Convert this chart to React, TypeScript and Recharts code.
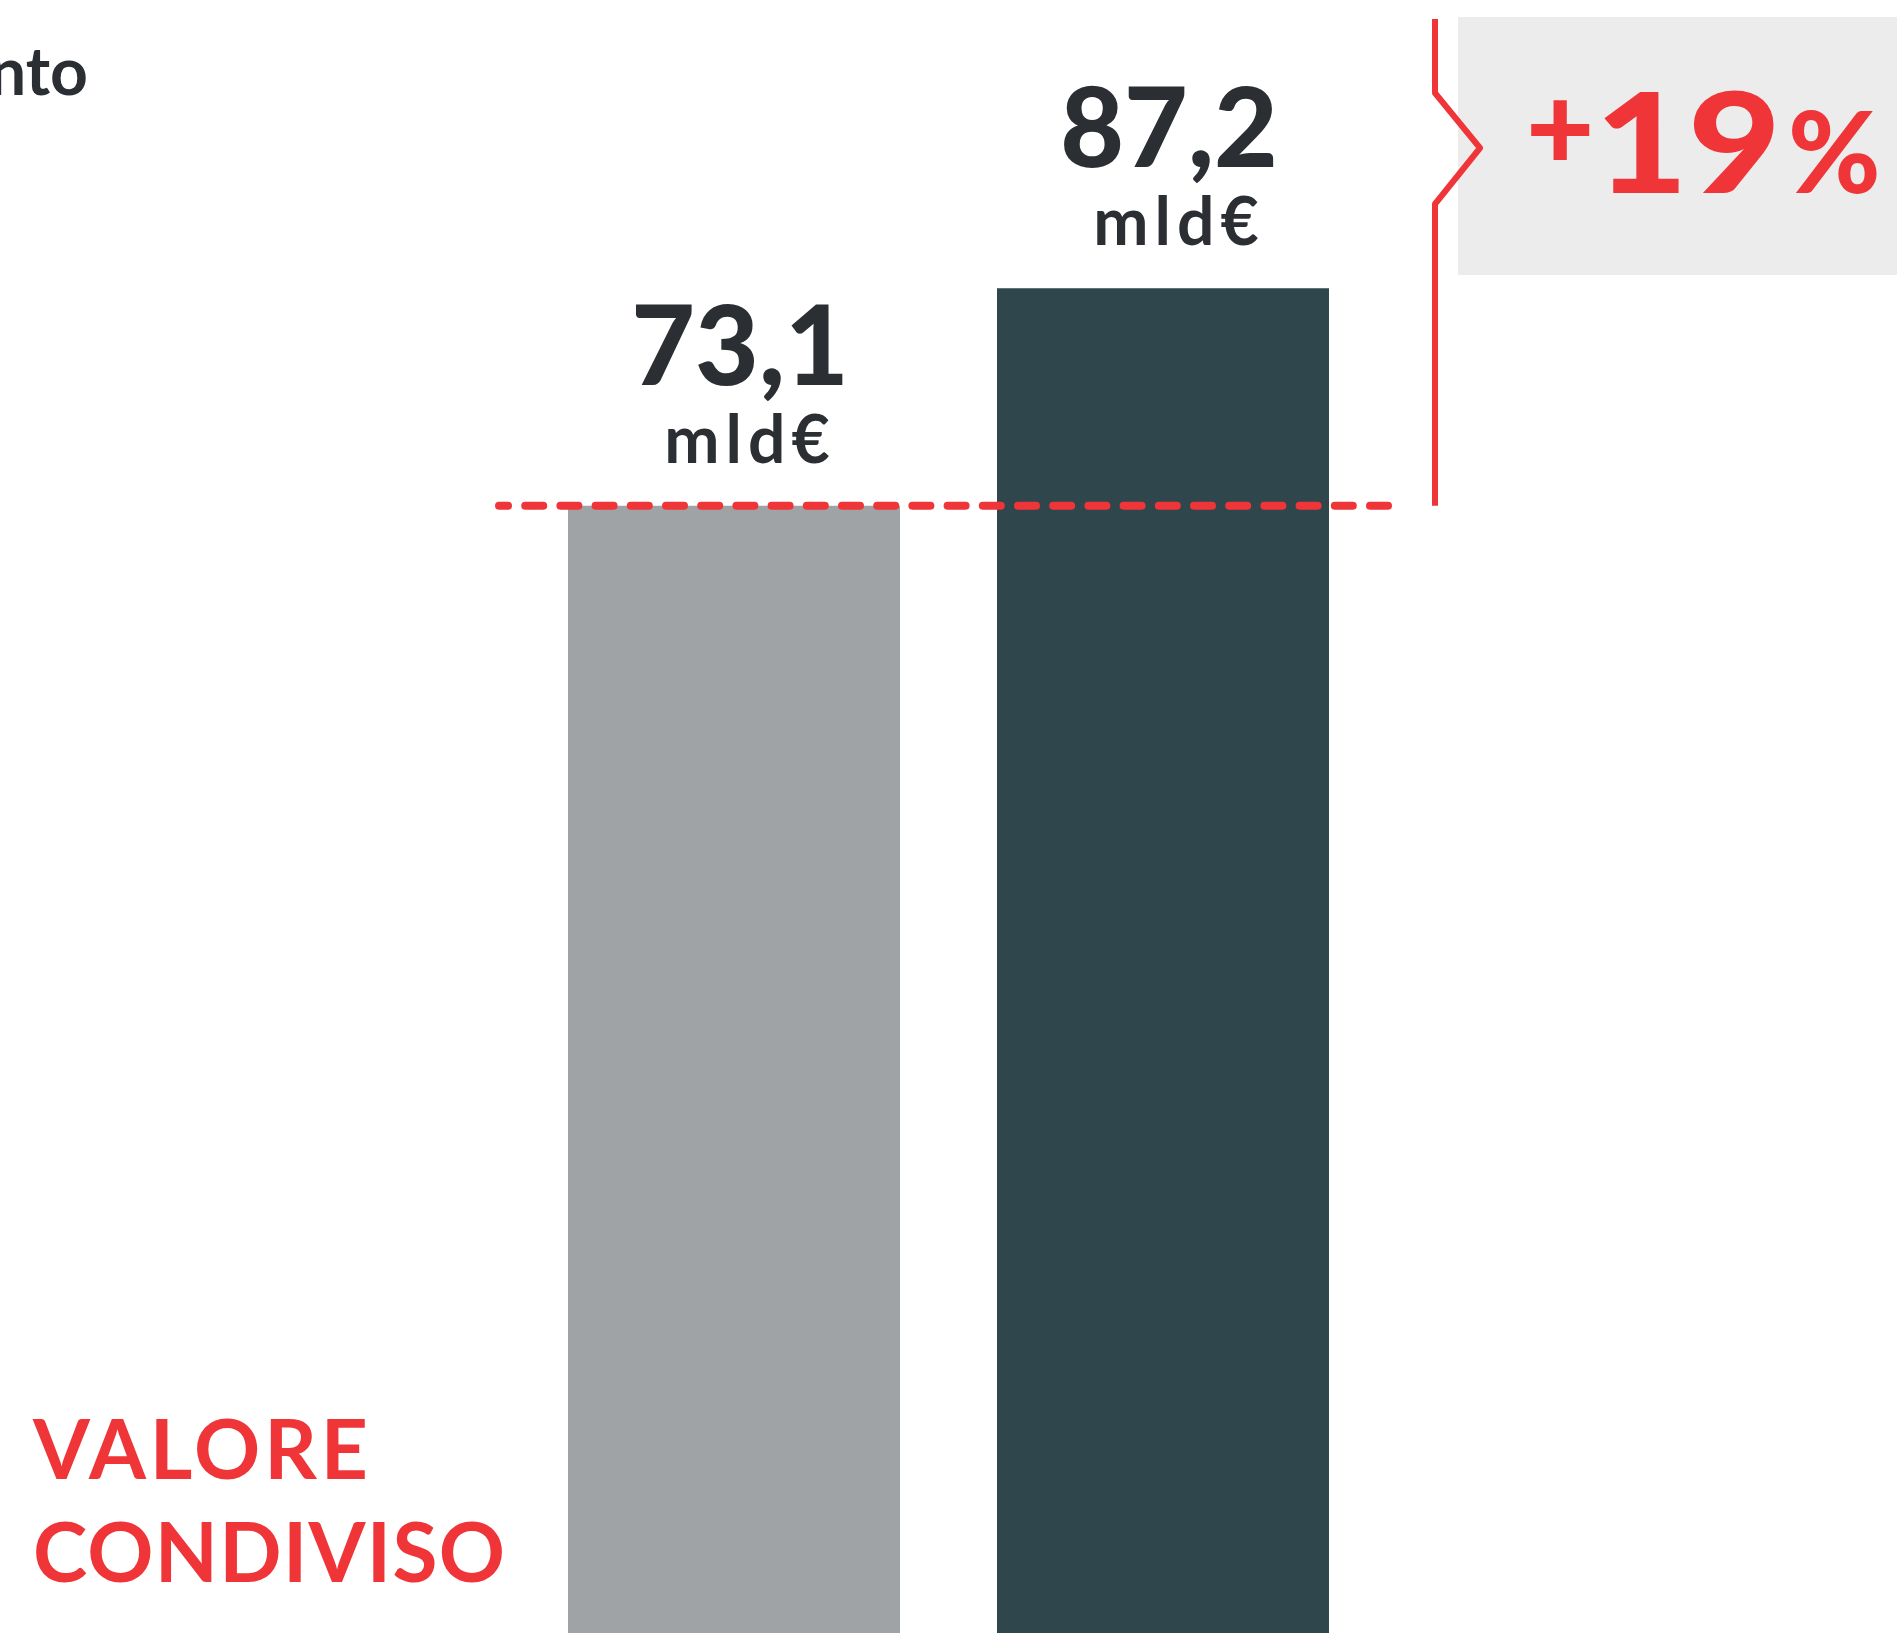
import React from "react";
import { BarChart, Bar, XAxis, YAxis, Cell, LabelList, ReferenceLine } from "recharts";

const periods = ["Anno precedente", "Anno corrente"];
const values = [73.1, 87.2];
const valueLabels = ["73,1", "87,2"];
const unitLabel = "mld€";
const barColors = ["#9fa3a6", "#2e464c"];
const growthParts = ["+", "19", "%"];
const titleLines = ["VALORE", "CONDIVISO"];
const headerTail = "nto";

const data = periods.map((p, i) => ({ period: p, value: values[i], label: valueLabels[i] }));

const W = 1897;
const H = 1633;
const RED = "#ef3538";
const INK = "#2b2f33";
const FONT = "Lato, 'Noto Sans', sans-serif";

const ValueLabel = (props: any) => {
  const { x, y, width, index } = props;
  const cx = x + width / 2 + 6;
  return (
    <g>
      <text x={cx} y={y - 121} textAnchor="middle" fill={INK} fontFamily={FONT} fontWeight={900} fontSize={110}>
        {valueLabels[index]}
      </text>
      <text x={cx + 10} y={y - 43} textAnchor="middle" fill={INK} fontFamily={FONT} fontWeight={700} fontSize={66} letterSpacing={6}>
        {unitLabel}
      </text>
    </g>
  );
};

// dashed baseline at the first value, stretched a bit past the plot area
const DashedBase = (props: any) => {
  const { x1, x2, y1 } = props;
  return (
    <line
      x1={x1 - 20}
      x2={x2 + 11}
      y1={y1}
      y2={y1}
      stroke={RED}
      strokeWidth={8}
      strokeLinecap="round"
      strokeDasharray="18 17.2"
      strokeDashoffset={9}
    />
  );
};

// red bracket from the top of the page down to the baseline
const Bracket = (props: any) => {
  const { x2, y1 } = props;
  const bx = x2 + 58;
  return (
    <path
      d={`M${bx},19 L${bx},93 L${bx + 45},148 L${bx},204 L${bx},${y1}`}
      fill="none"
      stroke={RED}
      strokeWidth={6}
      strokeLinejoin="round"
    />
  );
};

export default function App() {
  return (
    <div style={{ position: "absolute", top: 0, left: 0, width: W, height: H, overflow: "hidden", background: "#fff" }}>
      <svg width={W} height={H} style={{ position: "absolute", top: 0, left: 0 }}>
        <rect x={1458} y={17} width={W - 1458} height={258} fill="#ececec" />
        <text x={1526} y={170} fill={RED} fontFamily={FONT} fontWeight={900} fontSize={118}>
          {growthParts[0]}
        </text>
        <text x={1595} y={193} fill={RED} fontFamily={FONT} fontWeight={900} fontSize={139} textLength={186} lengthAdjust="spacingAndGlyphs">
          {growthParts[1]}
        </text>
        <text x={1788} y={193} fill={RED} fontFamily={FONT} fontWeight={900} fontSize={112}>
          {growthParts[2]}
        </text>
        <text x={88} y={95} textAnchor="end" fill={INK} fontFamily={FONT} fontWeight={700} fontSize={66}>
          {"Fatturato e investime" + headerTail}
        </text>
        {titleLines.map((t, i) => (
          <text key={t} x={33} y={1479 + i * 103} fill={RED} fontFamily={FONT} fontWeight={700} fontSize={82} letterSpacing={i === 0 ? 3.8 : 1.3}>
            {t}
          </text>
        ))}
      </svg>
      <div style={{ position: "absolute", top: 0, left: 0 }}>
        <BarChart width={W} height={H} data={data} margin={{ top: 0, right: 520, bottom: 0, left: 519 }}>
          <XAxis dataKey="period" hide />
          <YAxis hide domain={[0, 105.9]} />
          <Bar dataKey="value" barSize={332} isAnimationActive={false}>
            {data.map((d, i) => (
              <Cell key={d.period} fill={barColors[i]} />
            ))}
            <LabelList dataKey="value" content={<ValueLabel />} />
          </Bar>
          <ReferenceLine y={values[0]} shape={<DashedBase />} ifOverflow="visible" />
          <ReferenceLine y={values[0]} shape={<Bracket />} ifOverflow="visible" />
        </BarChart>
      </div>
    </div>
  );
}
